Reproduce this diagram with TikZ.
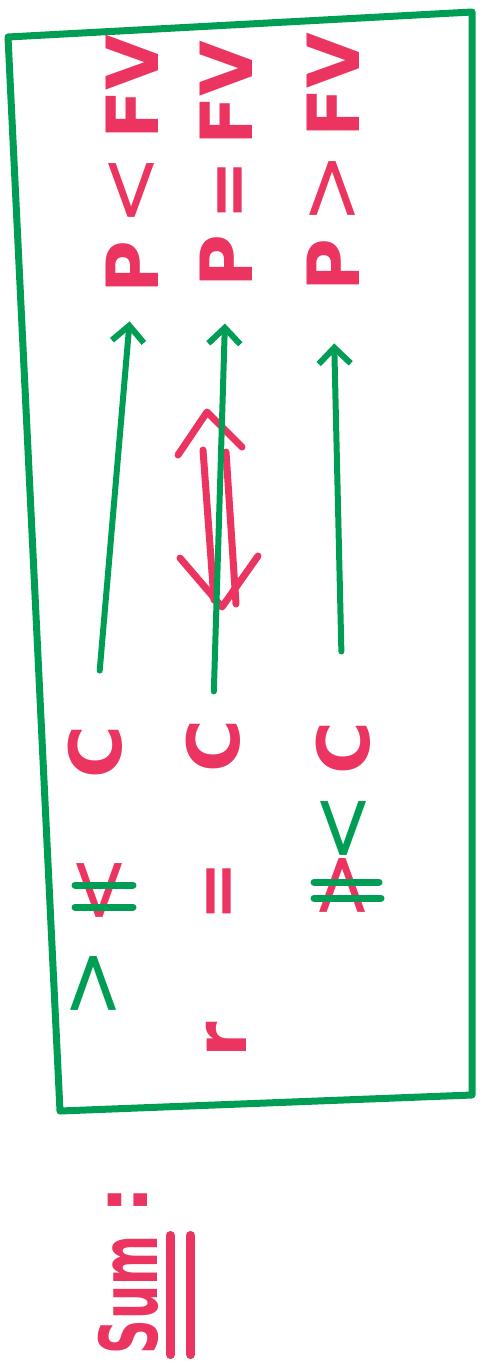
\documentclass[tikz,border=0pt]{standalone}
\usepackage{fontspec}
\setsansfont{DejaVu Sans}
\usepackage{tikz}
\usetikzlibrary{arrows.meta}
\definecolor{penred}{RGB}{236,52,96}
\definecolor{pengreen}{RGB}{0,158,84}
\newcommand{\relsym}[1]{{\mdseries\fontsize{86}{86}\selectfont #1}}
\newcommand{\gap}{\hspace{0.2em}}
\tikzstyle{redtext} = [rotate=90, inner sep=0pt, text=penred, font=\sffamily\bfseries\fontsize{72}{72}\selectfont]
\tikzstyle{greentext} = [redtext, text=pengreen]
\tikzstyle{frame} = [draw=pengreen, line width=7pt, line join=round]
\tikzstyle{arrow} = [pengreen, line width=6pt, line cap=round, -{Straight Barb[length=16pt,width=32pt]}]
\tikzstyle{strike} = [pengreen, line width=7pt, line cap=round]
\tikzstyle{redpen} = [penred, line width=7pt, line cap=round, line join=round]

\begin{document}
\begin{tikzpicture}[x=1pt, y=-1pt]
\useasboundingbox (0,0) rectangle (485,1366);
\draw [frame] (8,37) -- (472,12) -- (472,1095) -- (60,1111) -- cycle;

\node (pL) [redtext] at (132,164) {P\gap\relsym{<}\gap FV};
\node (pM) [redtext] at (226,164) {P\gap=\gap FV};
\node (pR) [redtext] at (333,162) {P\gap\relsym{>}\gap FV};

\node (cL) [redtext] at (95,752) {C};
\node (cM) [redtext] at (213,746) {C};
\node (cR) [redtext] at (343,748) {C};

\node (ltL) [redtext] at (102,890) {\relsym{<}};
\node (gtL) [greentext] at (96,983) {\relsym{>}};
\node (eqM) [redtext] at (224,891) {=};
\node (gtR) [redtext] at (345,885) {\relsym{>}};
\node (ltR) [greentext] at (346,828) {\relsym{<}};
\node (r) [redtext] at (226,1040) {r};

\node (sum) [redtext, font=\sffamily\bfseries\fontsize{80}{80}\selectfont] at (128,1295) {\scalebox{0.6}[1]{Sum}};
\node (sumcolon) [redtext] at (128,1200) {:};

% crossed out
\draw [strike] ([shift={(-27,-5)}]ltL.center) -- ++(58,0);
\draw [strike] ([shift={(-27,17)}]ltL.center) -- ++(58,0);
\draw [strike] ([shift={(-31,-3)}]gtR.center) -- ++(65,0);
\draw [strike] ([shift={(-31,13)}]gtR.center) -- ++(67,0);

% iff
\draw [redpen] (203,450) -- (214,600);
\draw [redpen] (226,452) -- (236,604);
\draw [redpen] (178,455) -- (207,412) -- (242,447);
\draw [redpen] (180,558) -- (222,607) -- (258,556);

\draw [arrow, shorten <=55pt, shorten >=28pt] (cL.east) -- (pL.west);
\draw [arrow, shorten <=28pt, shorten >=36pt] (cM.east) -- (pM.west);
\draw [arrow, shorten <=70pt, shorten >=52pt] (cR.east) -- (pR.west);

\draw [redpen, line width=9pt] ([xshift=12pt]sum.south west) -- ([xshift=12pt]sum.south east);
\draw [redpen, line width=9pt] ([xshift=32pt]sum.south west) -- ([xshift=32pt]sum.south east);
\end{tikzpicture}
\end{document}
